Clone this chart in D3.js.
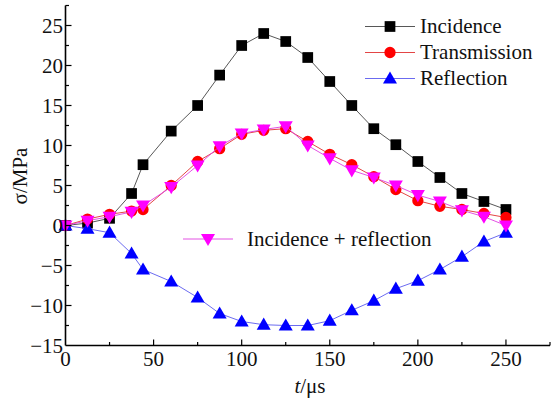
<!DOCTYPE html>
<html><head><meta charset="utf-8">
<script src="https://cdn.jsdelivr.net/npm/d3@7"></script>
<style>body{margin:0;background:#fff}svg{display:block}</style>
</head><body>
<script>
const times = [0,12.5,25,37.5,44,60,75,87.5,100,112.5,125,137.5,150,162.5,175,187.5,200,212.5,225,237.5,250];
const incidence = [0,0.3,0.9,4.0,7.6,11.8,15.0,18.8,22.5,24.0,23.0,21.0,18.0,15.0,12.1,10.1,8.0,6.0,4.0,3.0,2.0];
const transmission = [0,0.8,1.4,1.8,2.0,5.0,8.0,9.6,11.4,11.9,12.1,10.5,8.9,7.6,6.1,4.5,3.1,2.4,2.0,1.5,1.0];
const reflection = [0,-0.4,-0.9,-3.5,-5.5,-7.0,-9.0,-11.0,-12.0,-12.4,-12.5,-12.5,-11.9,-10.6,-9.4,-7.9,-6.9,-5.5,-3.9,-2.0,-0.9];
const incPlusRefl = [0,0.6,1.1,1.7,2.5,4.8,7.5,9.9,11.5,12.0,12.4,10.0,8.4,6.9,6.0,5.0,3.8,3.0,1.9,1.1,0];
const seriesNames = ["Incidence","Transmission","Reflection","Incidence + reflection"];
const xTicks = [0,50,100,150,200,250];
const yTicks = [-15,-10,-5,0,5,10,15,20,25];

const FONT="'Liberation Serif','DejaVu Serif','Times New Roman',serif";
const W=559,H=401;
const svg=d3.select("body").append("svg").attr("width",W).attr("height",H)
  .attr("font-family",FONT).style("font-family",FONT);
const x=d3.scaleLinear().domain([0,275]).range([65.5,550]);
const y=d3.scaleLinear().domain([-15,27.5]).range([345.5,5.5]);

const styles=[
  {data:incidence,line:"#444",fill:"#000",sym:d3.symbolSquare,size:115,rot:0},
  {data:transmission,line:"#e03030",fill:"#ff0000",sym:d3.symbolCircle,size:100,rot:0},
  {data:reflection,line:"#5a5aee",fill:"#0000ff",sym:d3.symbolTriangle,size:85,rot:0},
  {data:incPlusRefl,line:"#e040e0",fill:"#ff00ff",sym:d3.symbolTriangle,size:85,rot:180}
];
const sym=(s)=>d3.symbol().type(s.sym).size(s.size)();
const tr=(s,px,py)=>`translate(${px},${py})`+(s.rot?` rotate(${s.rot})`:"")+(s.sym===d3.symbolTriangle?` translate(0,1)`:"");

const line=d3.line().x((d,i)=>x(times[i])).y(d=>y(d));
styles.forEach(s=>{
  svg.append("path").attr("d",line(s.data)).attr("fill","none").attr("stroke",s.line).attr("stroke-width",0.9);
  svg.append("g").selectAll("path").data(s.data).join("path")
    .attr("d",sym(s)).attr("transform",(d,i)=>tr(s,x(times[i]),y(d))).attr("fill",s.fill);
});

// axes
const ax=svg.append("g");
ax.append("line").attr("x1",x(0)).attr("x2",x(275)).attr("y1",y(-15)).attr("y2",y(-15)).attr("stroke","#000").attr("stroke-width",1.6);
ax.append("line").attr("x1",x(0)).attr("x2",x(0)).attr("y1",y(-15)).attr("y2",y(27.5)).attr("stroke","#000").attr("stroke-width",1.6);
d3.range(25,276,25).forEach(v=>{
  const major=v%50===0;
  ax.append("line").attr("x1",x(v)).attr("x2",x(v)).attr("y1",y(-15)).attr("y2",y(-15)-(major?6:3.5)).attr("stroke","#000").attr("stroke-width",1.2);
});
d3.range(-12.5,27.6,2.5).forEach(v=>{
  const major=v%5===0;
  ax.append("line").attr("x1",x(0)).attr("x2",x(0)+(major?6:3.5)).attr("y1",y(v)).attr("y2",y(v)).attr("stroke","#000").attr("stroke-width",1.2);
});
const fmt=v=>v<0?"\u2212"+Math.abs(v):""+v;
ax.selectAll("text.xt").data(xTicks).join("text").attr("class","xt")
  .attr("x",d=>x(d)).attr("y",366).attr("text-anchor","middle").attr("font-size",21).attr("fill","#111").text(fmt);
ax.selectAll("text.yt").data(yTicks).join("text").attr("class","yt")
  .attr("x",63).attr("y",d=>y(d)+7).attr("text-anchor","end").attr("font-size",21).attr("fill","#111").text(fmt);

// axis titles
const yt=svg.append("text").attr("transform","translate(27,176) rotate(-90)").attr("text-anchor","middle").attr("font-size",21).attr("fill","#111");
yt.append("tspan").text("\u03c3/MPa");
const xt=svg.append("text").attr("x",310).attr("y",393).attr("text-anchor","middle").attr("font-size",21).attr("fill","#111");
xt.append("tspan").attr("font-style","italic").text("t");
xt.append("tspan").text("/\u03bcs");

// legend
const legPos=[[390,26.5],[390,52.5],[390,78.5],[208,239]];
styles.forEach((s,i)=>{
  const [cx,cy]=legPos[i];
  svg.append("line").attr("x1",cx-25).attr("x2",cx+25).attr("y1",cy).attr("y2",cy).attr("stroke",s.line).attr("stroke-width",0.9);
  svg.append("path").attr("d",sym(s)).attr("transform",tr(s,cx,cy)).attr("fill",s.fill);
  svg.append("text").attr("x",cx+(i<3?30:39)).attr("y",cy+6.5).attr("font-size",21).attr("fill","#111").text(seriesNames[i]);
});
</script>
</body></html>
